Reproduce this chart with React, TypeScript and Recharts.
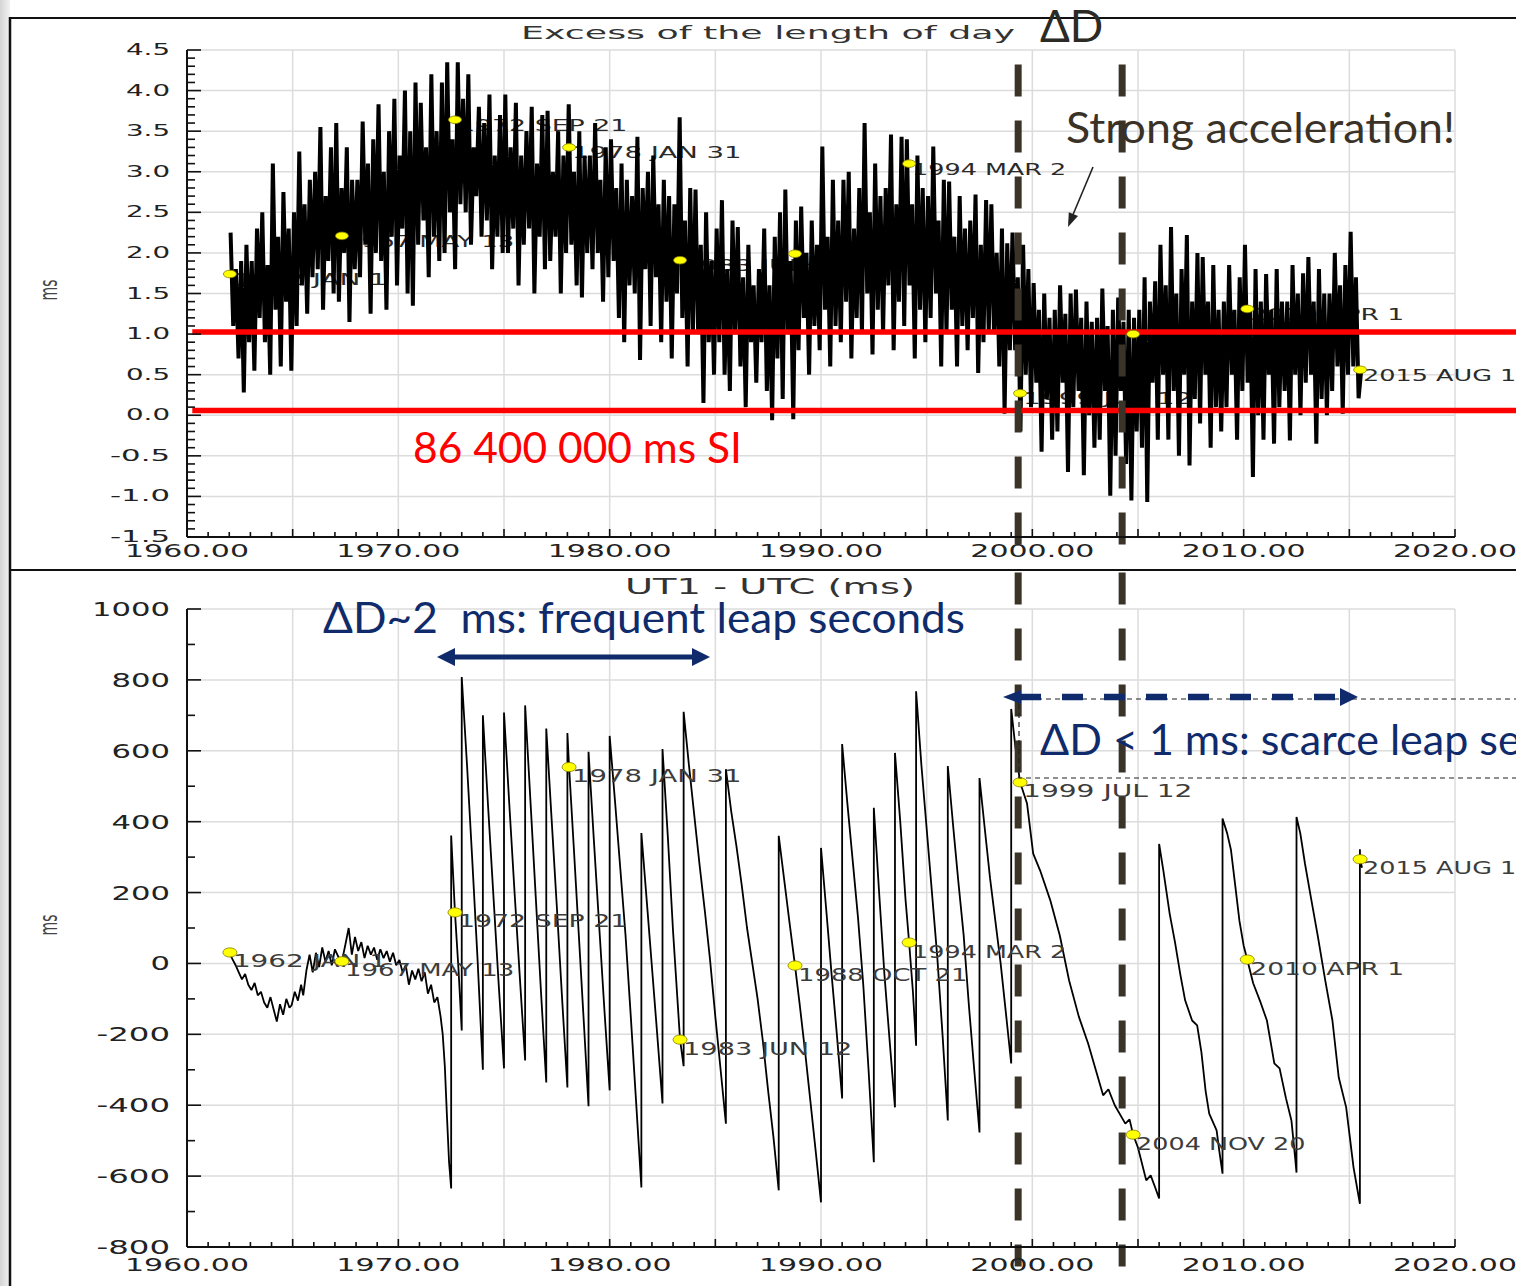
import React from "react";
import { CartesianGrid, ComposedChart, Line, ReferenceLine, Scatter, XAxis, YAxis } from "recharts";

// yellow reference epochs, shared by both panels
const markerLabels = ["1962 JAN 1", "1967 MAY 13", "1972 SEP 21", "1978 JAN 31", "1983 JUN 12", "1988 OCT 21", "1994 MAR 2", "1999 JUL 12", "2004 NOV 20", "2010 APR 1", "2015 AUG 11"];
const markerYears = [1962.03, 1967.33, 1972.68, 1978.08, 1983.33, 1988.77, 1994.17, 1999.42, 2004.77, 2010.17, 2015.51];
const lodAtMarkers = [1.74, 2.21, 3.64, 3.3, 1.91, 1.99, 3.1, 0.27, 1.0, 1.31, 0.56];
const ut1AtMarkers = [31, 6, 144, 554, -215, -6, 59, 511, -483, 11, 294];

// excess length of day (ms), 8 readings per year, starting 1962
const lodFirstYear = 1962;
const lod1960s = [
  [2.25, 1.1, 1.8, 0.7, 1.9, 0.28, 2.1, 0.9],
  [1.9, 0.55, 2.3, 1.2, 2.5, 0.9, 1.85, 0.5],
  [3.1, 1.3, 2.2, 0.6, 2.75, 1.4, 2.3, 0.55],
  [2.5, 1.1, 3.25, 1.6, 2.6, 1.25, 2.9, 1.7],
  [3.0, 1.8, 3.55, 1.3, 2.7, 1.9, 3.3, 1.5],
  [3.6, 1.4, 2.8, 2.0, 3.3, 1.15, 2.9, 1.8],
  [2.9, 1.7, 3.62, 2.1, 3.1, 1.25, 3.4, 2.0],
  [3.83, 1.9, 3.0, 1.3, 3.5, 2.2, 3.9, 1.6],
];
const lod1970s = [
  [3.2, 2.3, 4.0, 1.5, 3.5, 1.35, 4.1, 2.1],
  [3.85, 2.4, 3.3, 1.7, 4.2, 2.2, 3.5, 1.9],
  [4.1, 2.0, 4.35, 2.5, 3.4, 1.8, 4.35, 2.6],
  [3.9, 2.5, 4.2, 2.1, 3.3, 2.7, 3.8, 2.2],
  [3.6, 2.4, 3.95, 1.8, 3.2, 2.2, 3.7, 2.0],
  [3.95, 2.0, 3.3, 2.3, 3.85, 1.6, 3.2, 2.1],
  [3.5, 2.3, 3.8, 1.5, 3.1, 2.2, 3.7, 1.8],
  [3.75, 1.9, 3.0, 2.2, 3.5, 1.5, 3.2, 2.0],
  [3.83, 2.1, 3.0, 1.6, 3.5, 1.45, 3.2, 2.0],
  [3.2, 1.8, 3.6, 2.0, 2.9, 1.4, 3.3, 1.7],
];
const lod1980s = [
  [3.4, 1.9, 2.8, 1.2, 3.1, 0.9, 2.9, 1.6],
  [2.7, 1.5, 3.43, 0.68, 2.8, 1.8, 3.0, 1.1],
  [3.2, 1.7, 2.6, 0.9, 2.9, 1.4, 2.7, 0.7],
  [2.6, 1.5, 3.67, 1.2, 2.4, 0.6, 2.8, 1.0],
  [2.78, 1.0, 2.1, 0.15, 2.5, 0.9, 1.9, 0.5],
  [2.3, 0.9, 2.65, 0.5, 1.8, 0.3, 2.4, 1.0],
  [2.32, 0.6, 1.7, 0.1, 2.1, 0.9, 1.6, 0.4],
  [1.8, 0.9, 2.3, 0.3, 1.6, -0.06, 2.2, 0.7],
  [2.5, 0.2, 2.78, 1.0, 1.9, -0.05, 2.4, 0.8],
  [2.57, 1.2, 2.0, 0.5, 2.4, 1.1, 2.1, 0.8],
];
const lod1990s = [
  [3.31, 1.3, 2.2, 0.6, 2.9, 1.1, 2.4, 0.9],
  [2.9, 1.4, 3.0, 0.7, 2.3, 1.2, 2.8, 1.0],
  [3.6, 1.5, 2.5, 0.75, 3.1, 1.3, 2.7, 1.0],
  [2.8, 1.6, 3.46, 0.8, 2.6, 1.4, 3.43, 1.1],
  [3.4, 1.6, 2.6, 0.7, 3.2, 1.3, 2.8, 0.9],
  [2.7, 1.2, 3.31, 1.5, 2.4, 0.6, 2.9, 1.0],
  [2.88, 1.3, 2.2, 0.6, 2.7, 1.1, 2.3, 0.8],
  [2.4, 1.2, 2.72, 0.52, 2.1, 0.9, 2.65, 1.0],
  [2.6, 1.0, 2.0, 0.6, 2.3, 0.02, 2.12, 0.8],
  [2.25, 0.8, 1.7, -0.2, 2.1, 0.5, 1.8, 0.1],
];
const lod2000s = [
  [1.63, 0.4, 1.3, -0.45, 1.5, 0.2, 1.2, -0.3],
  [1.3, -0.2, 1.6, 0.4, 1.25, -0.7, 1.5, 0.1],
  [1.55, 0.3, 1.2, -0.74, 1.4, 0.0, 1.15, -0.4],
  [1.2, -0.3, 1.56, 0.3, 1.1, -0.99, 1.3, -0.5],
  [1.45, 0.3, 1.15, -0.6, 1.3, -1.05, 1.2, -0.2],
  [1.3, -0.4, 1.7, -1.07, 1.4, 0.4, 1.65, -0.3],
  [2.1, 0.5, 1.6, -0.3, 2.32, 0.3, 1.5, -0.5],
  [1.8, 0.5, 2.22, -0.62, 1.4, 0.2, 2.0, -0.1],
  [1.95, 0.5, 1.4, -0.4, 1.85, 0.1, 1.3, -0.2],
  [1.4, 0.1, 1.85, 0.5, 1.3, -0.3, 1.7, 0.3],
];
const lod2010s = [
  [2.1, 0.4, 1.3, -0.76, 1.8, 0.0, 1.4, -0.3],
  [1.74, 0.5, 1.3, -0.35, 1.8, 0.1, 1.4, 0.3],
  [1.4, -0.31, 1.85, 0.5, 1.5, 0.0, 1.75, 0.4],
  [1.95, 0.5, 1.4, -0.35, 1.8, 0.2, 1.5, 0.0],
  [1.5, 0.3, 2.0, 0.6, 1.6, 0.02, 1.85, 0.5],
  [2.26, 0.6, 1.7, 0.21, 0.56],
];

// UT1 - UTC (ms) as [year, value]; leap seconds appear as repeated years
const ut1Before1972 = [
  [1962.0, 31], [1962.15, 12], [1962.3, -5], [1962.45, -25], [1962.6, -45], [1962.75, -30], [1962.9, -60],
  [1963.05, -75], [1963.2, -55], [1963.35, -90], [1963.5, -80], [1963.65, -110], [1963.8, -125], [1963.95, -95],
  [1964.1, -130], [1964.25, -164], [1964.4, -115], [1964.55, -145], [1964.7, -100], [1964.85, -125], [1964.95, -118],
  [1965.1, -80], [1965.25, -105], [1965.4, -60], [1965.5, -90], [1965.65, -20], [1965.8, 25], [1965.95, -25],
  [1966.1, 30], [1966.25, -10], [1966.4, 45], [1966.55, 5], [1966.7, 35], [1966.85, -5], [1967.0, 40],
  [1967.15, 20], [1967.33, 6], [1967.5, 55], [1967.65, 100], [1967.8, 25], [1967.95, 75], [1968.1, 35],
  [1968.25, 60], [1968.4, 15], [1968.55, 50], [1968.7, 25], [1968.85, 45], [1969.0, 10], [1969.15, 40],
  [1969.3, 15], [1969.45, 35], [1969.6, 5], [1969.75, 30], [1969.9, -5], [1970.05, 10], [1970.2, -25],
  [1970.35, -5], [1970.5, -60], [1970.65, -20], [1970.8, -45], [1970.95, -15], [1971.1, -50], [1971.25, -25],
  [1971.4, -85], [1971.55, -60], [1971.7, -110], [1971.85, -95], [1972.0, -150], [1972.1, -200], [1972.2, -290],
  [1972.3, -430], [1972.4, -560], [1972.5, -635],
];
const ut1Seventies = [
  [1972.5, 361], [1972.68, 144], [1972.85, -20], [1973.0, -189],
  [1973.0, 808], [1973.25, 560], [1973.5, 290], [1973.75, 10], [1974.0, -300],
  [1974.0, 700], [1974.25, 440], [1974.5, 190], [1974.75, -60], [1975.0, -296],
  [1975.0, 708], [1975.25, 450], [1975.5, 200], [1975.75, -40], [1976.0, -274],
  [1976.0, 728], [1976.25, 460], [1976.5, 190], [1976.75, -80], [1977.0, -336],
  [1977.0, 663], [1977.25, 410], [1977.5, 160], [1977.75, -100], [1978.0, -350],
  [1978.0, 650], [1978.08, 554], [1978.3, 330], [1978.55, 70], [1978.8, -190], [1979.0, -403],
  [1979.0, 597], [1979.25, 350], [1979.5, 110], [1979.75, -130], [1980.0, -358],
];
const ut1Eighties = [
  [1980.0, 642], [1980.25, 460], [1980.5, 270], [1980.75, 80], [1981.0, -150], [1981.25, -390], [1981.5, -632],
  [1981.5, 368], [1981.75, 180], [1982.0, -10], [1982.25, -200], [1982.5, -395],
  [1982.5, 605], [1982.75, 360], [1983.0, 90], [1983.33, -215], [1983.5, -290],
  [1983.5, 710], [1983.75, 560], [1984.0, 420], [1984.25, 280], [1984.5, 150], [1984.75, 10], [1985.0, -150], [1985.25, -300], [1985.5, -452],
  [1985.5, 548], [1985.75, 430], [1986.0, 330], [1986.25, 220], [1986.5, 100], [1986.75, 0], [1987.0, -100], [1987.25, -220], [1987.5, -360], [1987.75, -490], [1988.0, -640],
  [1988.0, 360], [1988.25, 240], [1988.5, 120], [1988.77, -6], [1989.0, -120], [1989.25, -250], [1989.5, -390], [1989.75, -530], [1990.0, -674],
];
const ut1Nineties = [
  [1990.0, 326], [1990.25, 150], [1990.5, -30], [1990.75, -200], [1991.0, -381],
  [1991.0, 619], [1991.25, 450], [1991.5, 290], [1991.75, 130], [1992.0, -60], [1992.25, -300], [1992.5, -561],
  [1992.5, 439], [1992.75, 200], [1993.0, -30], [1993.25, -220], [1993.5, -406],
  [1993.5, 594], [1993.75, 400], [1994.0, 180], [1994.17, 59], [1994.35, -80], [1994.5, -232],
  [1994.5, 768], [1994.75, 560], [1995.0, 380], [1995.25, 200], [1995.5, 20], [1995.75, -200], [1996.0, -443],
  [1996.0, 557], [1996.25, 390], [1996.5, 230], [1996.75, 80], [1997.0, -120], [1997.25, -300], [1997.5, -477],
  [1997.5, 523], [1997.75, 380], [1998.0, 240], [1998.25, 120], [1998.5, 0], [1998.75, -140], [1999.0, -282],
];
const ut1Since1999 = [
  [1999.0, 718], [1999.2, 610], [1999.42, 511], [1999.75, 451], [2000.04, 310], [2000.37, 262], [2000.85, 178],
  [2001.3, 79], [2001.74, -48], [2002.2, -150], [2002.64, -226], [2003.0, -300], [2003.35, -372], [2003.6, -355],
  [2003.9, -400], [2004.4, -452], [2004.6, -440], [2004.77, -483], [2005.0, -520], [2005.39, -612], [2005.6, -598],
  [2005.8, -630], [2006.0, -663],
  [2006.0, 337], [2006.2, 262], [2006.5, 140], [2006.75, 60], [2007.0, -30], [2007.23, -104], [2007.56, -161],
  [2007.8, -175], [2008.0, -250], [2008.2, -360], [2008.37, -424], [2008.72, -471], [2008.85, -530], [2009.0, -593],
  [2009.0, 409], [2009.22, 367], [2009.4, 320], [2009.6, 220], [2009.8, 120], [2010.0, 50], [2010.17, 11],
  [2010.45, -56], [2010.8, -110], [2011.1, -161], [2011.3, -230], [2011.45, -282], [2011.7, -296], [2012.0, -380],
  [2012.26, -443], [2012.45, -557], [2012.5, -590],
  [2012.5, 413], [2012.68, 367], [2012.9, 282], [2013.2, 180], [2013.5, 80], [2013.86, -48], [2014.2, -161],
  [2014.5, -322], [2014.85, -406], [2015.2, -576], [2015.5, -678],
  [2015.5, 322], [2015.51, 294], [2015.6, 270],
];

const gridYears = [1960, 1965, 1970, 1975, 1980, 1985, 1990, 1995, 2000, 2005, 2010, 2015, 2020];
const lodGrid = [-1.5, -1.0, -0.5, 0.0, 0.5, 1.0, 1.5, 2.0, 2.5, 3.0, 3.5, 4.0, 4.5];
const ut1Grid = [-800, -600, -400, -200, 0, 200, 400, 600, 800, 1000];
const redLevels = [1.025, 0.06];
const deltaDYears = [1999.33, 2004.25];

const yearTicks = Array.from({ length: 61 }, (_, i) => 1960 + i);
const lodTicks = Array.from({ length: 61 }, (_, i) => (i - 15) / 10);
const ut1Ticks = Array.from({ length: 19 }, (_, i) => -800 + i * 100);

const lodData = [...lod1960s, ...lod1970s, ...lod1980s, ...lod1990s, ...lod2000s, ...lod2010s].flatMap((row, i) =>
  row.map((v, j) => ({ t: lodFirstYear + i + (j + 0.5) / 8, v }))
);
const ut1Data = [...ut1Before1972, ...ut1Seventies, ...ut1Eighties, ...ut1Nineties, ...ut1Since1999].map(([t, v]) => ({ t, v }));
const lodMarkers = markerYears.map((t, i) => ({ t, v: lodAtMarkers[i], label: markerLabels[i] }));
const ut1Markers = markerYears.map((t, i) => ({ t, v: ut1AtMarkers[i], label: markerLabels[i] }));

const tickFont = "'DejaVu Sans', Verdana, sans-serif";
const slideFont = "Lato, 'Open Sans', sans-serif";
const navy = "#0f2b6b";
const darkDash = "#3a3328";

function yearTick(labelOffset: number) {
  return (props: any) => {
    const { x, y, payload } = props;
    const yr = Math.round(payload.value);
    const len = yr % 5 === 0 ? 8 : 5;
    return (
      <g>
        <line x1={x} x2={x} y1={y} y2={y - len} stroke="#111" strokeWidth={1.6} />
        {yr % 10 === 0 ? (
          <text x={x - 62} y={y + labelOffset} textLength={124} lengthAdjust="spacingAndGlyphs" fontFamily={tickFont} fontSize={18} fill="#222" dominantBaseline="central">
            {yr.toFixed(2)}
          </text>
        ) : null}
      </g>
    );
  };
}

function valueTick(isMajor: (v: number) => boolean, format: (v: number) => string, width: (s: string) => number, fontSize: number) {
  return (props: any) => {
    const { x, y, payload } = props;
    const v = payload.value;
    const major = isMajor(v);
    const label = format(v);
    const w = width(label);
    return (
      <g>
        <line x1={x} x2={x + (major ? 14 : 8)} y1={y} y2={y} stroke="#111" strokeWidth={1.6} />
        {major ? (
          <text x={x - 17 - w} y={y} textLength={w} lengthAdjust="spacingAndGlyphs" fontFamily={tickFont} fontSize={fontSize} fill="#222" dominantBaseline="central">
            {label}
          </text>
        ) : null}
      </g>
    );
  };
}

const lodTick = valueTick(
  (v) => Math.abs(Math.round(v * 10) % 5) === 0,
  (v) => v.toFixed(1),
  (s) => 44 + (s.startsWith("-") ? 16 : 0),
  15
);
const ut1Tick = valueTick(
  (v) => Math.abs(v % 200) === 0,
  (v) => String(v),
  (s) => s.replace("-", "").length * 19.5 + (s.startsWith("-") ? 15 : 0),
  19
);

function markerLabel(dy: number, fontSize: number, color: string) {
  return (props: any) => {
    const { cx, cy, payload } = props;
    return (
      <text x={cx + 3} y={cy + dy} textLength={payload.label.length * 15.4} lengthAdjust="spacingAndGlyphs" fontFamily={tickFont} fontSize={fontSize} fill={color}>
        {payload.label}
      </text>
    );
  };
}

function markerDot(rx: number, ry: number) {
  return (props: any) => <ellipse cx={props.cx} cy={props.cy} rx={rx} ry={ry} fill="#ffff00" stroke="#857a00" strokeWidth={0.8} />;
}

function TopPanel() {
  return (
    <ComposedChart width={1520} height={552} margin={{ top: 32, right: 75, bottom: 0, left: 0 }}>
      <CartesianGrid stroke="#dcdcdc" strokeWidth={1.5} horizontalValues={lodGrid} verticalValues={gridYears} />
      <XAxis dataKey="t" type="number" domain={[1960, 2020]} ticks={yearTicks} interval={0} height={33} tickSize={0} tickMargin={0} tickLine={false} axisLine={{ stroke: "#111", strokeWidth: 2 }} tick={yearTick(13)} />
      <YAxis dataKey="v" type="number" domain={[-1.5, 4.5]} ticks={lodTicks} interval={0} width={177} tickSize={0} tickMargin={0} tickLine={false} axisLine={{ stroke: "#111", strokeWidth: 2 }} tick={lodTick} />
      <Scatter data={lodMarkers} dataKey="v" zIndex={350} shape={markerLabel(11, 16, "#2a2a2a")} isAnimationActive={false} />
      <Line data={lodData} dataKey="v" stroke="#000" strokeWidth={4} strokeLinejoin="bevel" dot={false} activeDot={false} isAnimationActive={false} />
      <Scatter data={lodMarkers} dataKey="v" shape={markerDot(6.5, 3.8)} isAnimationActive={false} />
      {redLevels.map((lv) => (
        <ReferenceLine key={lv} segment={[{ x: 1960.25, y: lv }, { x: 2023, y: lv }]} stroke="#ff0000" strokeWidth={5.5} ifOverflow="visible" />
      ))}
      {deltaDYears.map((yr) => (
        <ReferenceLine key={yr} segment={[{ x: yr, y: 4.32 }, { x: yr, y: -1.88 }]} stroke={darkDash} strokeWidth={7} strokeDasharray="32 24" ifOverflow="visible" />
      ))}
    </ComposedChart>
  );
}

function BottomPanel() {
  return (
    <ComposedChart width={1520} height={716} margin={{ top: 39, right: 75, bottom: 0, left: 0 }}>
      <CartesianGrid stroke="#dcdcdc" strokeWidth={1.5} horizontalValues={ut1Grid} verticalValues={gridYears} />
      <XAxis dataKey="t" type="number" domain={[1960, 2020]} ticks={yearTicks} interval={0} height={39} tickSize={0} tickMargin={0} tickLine={false} axisLine={{ stroke: "#111", strokeWidth: 2 }} tick={yearTick(17)} />
      <YAxis dataKey="v" type="number" domain={[-800, 1000]} ticks={ut1Ticks} interval={0} width={177} tickSize={0} tickMargin={0} tickLine={false} axisLine={{ stroke: "#111", strokeWidth: 2 }} tick={ut1Tick} />
      <Line data={ut1Data} dataKey="v" stroke="#000" strokeWidth={1.8} strokeLinejoin="bevel" dot={false} activeDot={false} isAnimationActive={false} />
      <Scatter data={ut1Markers} dataKey="v" shape={markerLabel(15, 18, "#3c3c3c")} isAnimationActive={false} />
      <Scatter data={ut1Markers} dataKey="v" shape={markerDot(7, 4.6)} isAnimationActive={false} />
      {deltaDYears.map((yr) => (
        <ReferenceLine key={yr} segment={[{ x: yr, y: 1103 }, { x: yr, y: -855 }]} stroke={darkDash} strokeWidth={7} strokeDasharray="32 24" ifOverflow="visible" />
      ))}
    </ComposedChart>
  );
}

function Overlay() {
  return (
    <svg width={1516} height={1286} style={{ position: "absolute", left: 0, top: 0, pointerEvents: "none" }}>
      <defs>
        <linearGradient id="edge" x1="0" y1="0" x2="1" y2="0">
          <stop offset="0" stopColor="#d4d4d4" />
          <stop offset="1" stopColor="#f2f2f2" />
        </linearGradient>
      </defs>
      <rect x={0} y={0} width={10} height={1286} fill="url(#edge)" />
      <line x1={10} y1={18} x2={1516} y2={18} stroke="#111" strokeWidth={2} />
      <line x1={10} y1={17} x2={10} y2={1286} stroke="#111" strokeWidth={2.5} />
      <line x1={10} y1={570} x2={1516} y2={570} stroke="#111" strokeWidth={2} />

      <text x={521} y={39} textLength={494} lengthAdjust="spacingAndGlyphs" fontFamily={tickFont} fontSize={17} fill="#333">Excess of the length of day</text>
      <text x={625} y={594} textLength={290} lengthAdjust="spacingAndGlyphs" fontFamily={tickFont} fontSize={22} fill="#333">UT1 - UTC (ms)</text>
      <g transform="translate(57,290) scale(1.8,1) rotate(-90)">
        <text x={0} y={0} textAnchor="middle" fontFamily={tickFont} fontSize={14} fill="#444">ms</text>
      </g>
      <g transform="translate(57,925) scale(1.8,1) rotate(-90)">
        <text x={0} y={0} textAnchor="middle" fontFamily={tickFont} fontSize={14} fill="#444">ms</text>
      </g>

      <text x={1040} y={42} fontFamily={slideFont} fontSize={44} fill="#2c2a25">ΔD</text>
      <text x={1066} y={143} textLength={389} lengthAdjust="spacingAndGlyphs" fontFamily={slideFont} fontSize={42} fill="#3a3226">Strong acceleration!</text>
      <line x1={1093} y1={167} x2={1072} y2={217} stroke="#222" strokeWidth={1.6} />
      <polygon points="1068,227 1078,216 1068.8,212.2" fill="#222" />
      <text x={413} y={463} textLength={329} lengthAdjust="spacingAndGlyphs" fontFamily={slideFont} fontSize={43} fill="#ff0000">86 400 000 ms SI</text>

      <text x={323} y={633} textLength={642} lengthAdjust="spacingAndGlyphs" fontFamily={slideFont} fontSize={42} fill={navy} style={{ whiteSpace: "pre" }}>ΔD~2  ms: frequent leap seconds</text>
      <line x1={452} y1={657} x2={695} y2={657} stroke={navy} strokeWidth={5} />
      <polygon points="437,657 455,648 455,666" fill={navy} />
      <polygon points="710,657 692,648 692,666" fill={navy} />

      <rect x={1019} y={699} width={520} height={79} fill="none" stroke="#222" strokeWidth={1.2} strokeDasharray="5 4" />
      <line x1={1020} y1={697} x2={1340} y2={697} stroke={navy} strokeWidth={6.5} strokeDasharray="21 21" />
      <polygon points="1003,697 1021,690 1021,704" fill={navy} />
      <polygon points="1358,697 1340,688 1340,706" fill={navy} />
      <text x={1040} y={755} textLength={592} lengthAdjust="spacingAndGlyphs" fontFamily={slideFont} fontSize={42} fill={navy}>ΔD &lt; 1 ms: scarce leap seconds</text>
    </svg>
  );
}

export default function App() {
  return (
    <div style={{ position: "absolute", left: 0, top: 0, width: 1516, height: 1286, overflow: "hidden", background: "#fff" }}>
      <div style={{ position: "absolute", left: 10, top: 18 }}>
        <TopPanel />
      </div>
      <div style={{ position: "absolute", left: 10, top: 570 }}>
        <BottomPanel />
      </div>
      <Overlay />
    </div>
  );
}
